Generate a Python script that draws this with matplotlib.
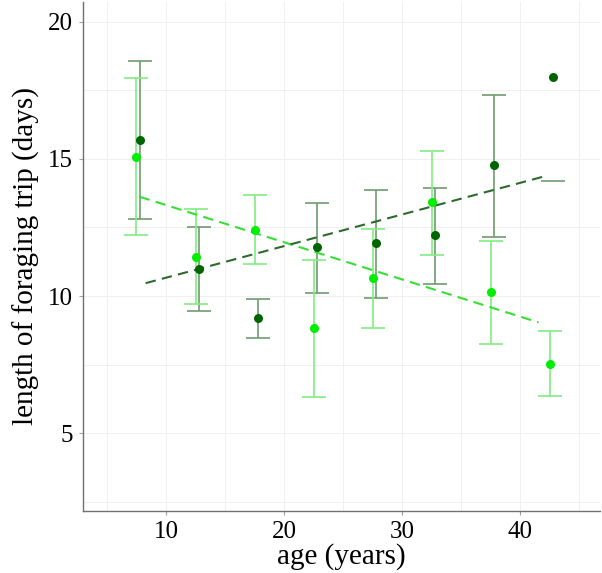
import numpy as np
from matplotlib import pyplot as plt

# light green group
light_age = [7.46, 12.47, 17.52, 22.54, 27.54, 32.55, 37.52, 42.55]
light_mean = [15.08, 11.43, 12.41, 8.82, 10.65, 13.42, 10.16, 7.54]
light_lo = [12.23, 9.70, 11.16, 6.33, 8.82, 11.50, 8.27, 6.36]
light_hi = [17.95, 13.16, 13.69, 11.31, 12.46, 15.27, 12.02, 8.72]

# dark green group (last bin has only a lower bound drawn)
dark_age = [7.80, 12.75, 17.75, 22.77, 27.80, 32.75, 37.75, 42.80]
dark_mean = [15.69, 10.97, 9.19, 11.78, 11.92, 12.23, 14.76, 17.98]
dark_lo = [12.80, 9.46, 8.48, 10.12, 9.94, 10.45, 12.17, 14.21]
dark_hi = [18.58, 12.53, 9.89, 13.41, 13.87, 13.95, 17.34, None]

# fitted trends (start/end of the dashed lines)
light_fit_x = [7.73, 41.57]
light_fit_y = [13.62, 9.04]
dark_fit_x = [8.24, 42.30]
dark_fit_y = [10.47, 14.39]

LIGHT = "#00ee00"
LIGHT_BAR = "#80ee80"
LIGHT_LINE = "#33e033"
DARK = "#006400"
DARK_BAR = "#6f9a6f"
DARK_LINE = "#2d6a2d"

plt.rcParams["font.family"] = ["Liberation Serif", "DejaVu Serif"]

fig = plt.figure(figsize=(6.02, 5.73), dpi=100)
ax = fig.add_axes([0.138, 0.108, 0.859, 0.889])

capsize = 8.3
lw = 1.2

# dark error bars
for x, lo, hi in zip(dark_age, dark_lo, dark_hi):
    if hi is None:
        ax.hlines(lo, x - 0.98, x + 0.98, color=DARK_BAR, lw=lw, zorder=2)
        continue
    ax.errorbar([x], [(lo + hi) / 2], yerr=[[(hi - lo) / 2], [(hi - lo) / 2]],
                fmt="none", ecolor=DARK_BAR, elinewidth=lw, capsize=capsize,
                capthick=lw, zorder=2)

# light error bars
lm = np.array(light_mean)
ax.errorbar(light_age, (np.array(light_lo) + np.array(light_hi)) / 2,
            yerr=(np.array(light_hi) - np.array(light_lo)) / 2,
            fmt="none", ecolor=LIGHT_BAR, elinewidth=lw, capsize=capsize,
            capthick=lw, zorder=2)

# trend lines
ax.plot(light_fit_x, light_fit_y, color=LIGHT_LINE, lw=1.5, ls=(0, (5, 3)), zorder=3)
ax.plot(dark_fit_x, dark_fit_y, color=DARK_LINE, lw=1.5, ls=(0, (5, 3)), zorder=3)

# points
ax.plot(light_age, lm, "o", color=LIGHT, ms=6.5, mec="none", zorder=4)
ax.plot(dark_age, dark_mean, "o", color=DARK, ms=6.5, mec="none", zorder=4)

ax.set_xlim(2.93, 46.8)
ax.set_ylim(2.16, 20.73)
ax.set_xticks([10, 20, 30, 40])
ax.set_yticks([5, 10, 15, 20])
ax.set_xticks([5, 15, 25, 35, 45], minor=True)
ax.set_yticks([2.5, 7.5, 12.5, 17.5], minor=True)

ax.grid(True, which="both", color="#f0f0f0", lw=0.7)
ax.set_axisbelow(True)

for s in ["top", "right"]:
    ax.spines[s].set_visible(False)
for s in ["left", "bottom"]:
    ax.spines[s].set_color("#707070")
    ax.spines[s].set_linewidth(1.0)

ax.tick_params(which="major", length=3, color="#a0a0a0", labelsize=18, pad=4)
ax.tick_params(which="minor", length=0)

ax.set_xlabel("age (years)", fontsize=21, labelpad=0)
ax.set_ylabel("length of foraging trip (days)", fontsize=21, labelpad=6)

plt.savefig("out.png", dpi=100)
